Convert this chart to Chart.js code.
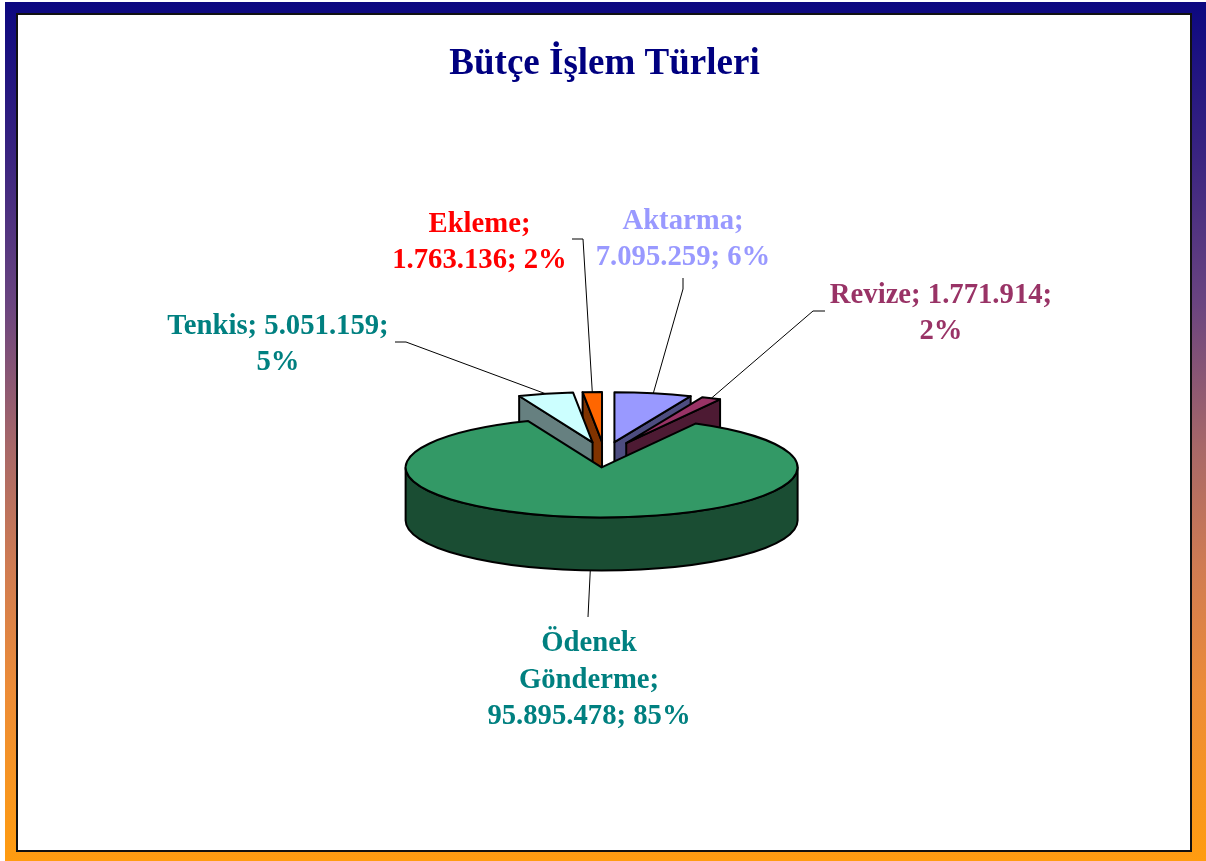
<!DOCTYPE html>
<html><head><meta charset="utf-8">
<script src="https://cdn.jsdelivr.net/npm/chart.js@4.4.1/dist/chart.umd.min.js"></script>
<style>
html,body{margin:0;padding:0;background:#fff;width:1206px;height:861px;overflow:hidden;}
#frame{position:absolute;left:5px;top:2px;width:1201px;height:859px;
  background:linear-gradient(to bottom,#0c0880 0%,#3a2480 18%,#6a4480 35%,#a86868 52%,#d07c52 66%,#ec8c38 80%,#ff9c10 100%);}
#inner{position:absolute;left:16px;top:13px;width:1176px;height:839px;box-sizing:border-box;border:2px solid #111;background:#fff;}
#c{position:absolute;left:0;top:0;}
</style></head>
<body>
<div id="frame"></div><div id="inner"></div>
<canvas id="c" width="1206" height="861"></canvas>
<script>
// ---- data ----
const categories = ['Aktarma', 'Revize', 'Ödenek Gönderme', 'Tenkis', 'Ekleme'];
const values = [7095259, 1771914, 95895478, 5051159, 1763136];
const percentLabels = [6, 2, 85, 5, 2];
const chartTitle = 'Bütçe İşlem Türleri';

// ---- styles ----
const topColors = ['#9999FF', '#993366', '#339966', '#CCFFFF', '#FF6600'];
const sideColors = ['#4D4D80', '#4D1A33', '#1A4D33', '#668080', '#803300'];
const labelColors = ['#9999FF', '#993366', '#008080', '#008080', '#FF0000'];
const labelLayout = [
  {x: 683, y: 229, wrap: 190, lh: 35.5, elbow: [[683, 278], [683, 289]]},
  {x: 941, y: 303, wrap: 240, lh: 35.5, elbow: [[825, 311], [813, 311]]},
  {x: 589, y: 651, wrap: 220, lh: 36.5, elbow: [[588, 617]]},
  {x: 278, y: 334, wrap: 240, lh: 36, elbow: [[395, 342], [406, 342]]},
  {x: 479.5, y: 232, wrap: 190, lh: 35.5, elbow: [[572, 239], [583, 239]]}
];
const K = 0.255, DEPTH = 53, EXPLODE = 50;
const LABEL_FONT = 'bold 28.7px "Liberation Serif", "Times New Roman", serif';

function fmt(v) { return String(v).replace(/\B(?=(\d{3})+(?!\d))/g, '.'); }

function geom(el) {
  const mid = (el.startAngle + el.endAngle) / 2;
  const ex = Math.cos(mid) * EXPLODE, ey = Math.sin(mid) * EXPLODE;
  const ax = el.x + ex, ay = el.y + ey * K;
  const R = el.outerRadius;
  return {mid, ex, ey, ax, ay, R,
    rim: (a, dz) => ({x: ax + Math.cos(a) * R, y: ay + Math.sin(a) * R * K + dz})};
}

function drawSlice(ctx, el, i) {
  const s = el.startAngle, e = el.endAngle;
  const g = geom(el);
  ctx.save();
  ctx.lineWidth = 2; ctx.strokeStyle = '#000'; ctx.lineJoin = 'round';
  ctx.fillStyle = sideColors[i];
  const face = (a) => {
    const p = g.rim(a, 0);
    ctx.beginPath();
    ctx.moveTo(g.ax, g.ay); ctx.lineTo(p.x, p.y);
    ctx.lineTo(p.x, p.y + DEPTH); ctx.lineTo(g.ax, g.ay + DEPTH);
    ctx.closePath(); ctx.fill(); ctx.stroke();
  };
  if (Math.cos(s) < -1e-6) face(s);
  if (Math.cos(e) > 1e-6) face(e);
  // curved outer side (front half only)
  for (let n = -1; n <= 1; n++) {
    const lo = Math.max(s, n * 2 * Math.PI), hi = Math.min(e, n * 2 * Math.PI + Math.PI);
    if (hi > lo) {
      const p1 = g.rim(lo, 0), p2 = g.rim(hi, DEPTH);
      ctx.beginPath();
      ctx.moveTo(p1.x, p1.y);
      ctx.ellipse(g.ax, g.ay, g.R, g.R * K, 0, lo, hi, false);
      ctx.lineTo(p2.x, p2.y);
      ctx.ellipse(g.ax, g.ay + DEPTH, g.R, g.R * K, 0, hi, lo, true);
      ctx.closePath(); ctx.fill(); ctx.stroke();
    }
  }
  // top face, drawn by the library's arc element in a flattened space
  ctx.save();
  ctx.translate(el.x, el.y); ctx.scale(1, K); ctx.translate(-el.x, -el.y);
  ctx.translate(g.ex, g.ey);
  el.draw(ctx);
  ctx.restore();
  // outline of the top face
  const p = g.rim(s, 0);
  ctx.beginPath();
  ctx.moveTo(g.ax, g.ay); ctx.lineTo(p.x, p.y);
  ctx.ellipse(g.ax, g.ay, g.R, g.R * K, 0, s, e, false);
  ctx.closePath(); ctx.stroke();
  ctx.restore();
}

const pie3d = {
  id: 'pie3d',
  beforeDatasetDraw(chart, args) {
    const ctx = chart.ctx, els = args.meta.data;
    const order = els.map((el, i) => i).sort((a, b) => geom(els[a]).ay - geom(els[b]).ay);
    for (const i of order) drawSlice(ctx, els[i], i);
    return false;
  },
  afterDatasetsDraw(chart) {
    const ctx = chart.ctx, els = chart.getDatasetMeta(0).data;
    ctx.save();
    els.forEach((el, i) => {
      const g = geom(el), L = labelLayout[i];
      const anchor = Math.sin(g.mid) > 0 ? g.rim(g.mid, DEPTH) : g.rim(g.mid, 0);
      ctx.beginPath();
      ctx.strokeStyle = '#000'; ctx.lineWidth = 1;
      ctx.moveTo(L.elbow[0][0], L.elbow[0][1]);
      for (let k = 1; k < L.elbow.length; k++) ctx.lineTo(L.elbow[k][0], L.elbow[k][1]);
      ctx.lineTo(anchor.x, anchor.y);
      ctx.stroke();
      // text
      ctx.font = LABEL_FONT;
      ctx.fillStyle = labelColors[i];
      ctx.textAlign = 'center'; ctx.textBaseline = 'alphabetic';
      const text = categories[i] + '; ' + fmt(values[i]) + '; ' + percentLabels[i] + '%';
      const words = text.split(' ');
      const lines = []; let cur = '';
      for (const w of words) {
        const t = cur ? cur + ' ' + w : w;
        if (cur && ctx.measureText(t).width > L.wrap) { lines.push(cur); cur = w; } else cur = t;
      }
      if (cur) lines.push(cur);
      lines.forEach((ln, j) => ctx.fillText(ln, L.x, L.y + j * L.lh));
    });
    ctx.restore();
  }
};

new Chart(document.getElementById('c'), {
  type: 'pie',
  data: {
    labels: categories,
    datasets: [{data: values, backgroundColor: topColors, borderWidth: 0, radius: 196}]
  },
  options: {
    responsive: false,
    animation: false,
    events: [],
    layout: {padding: {left: 3, right: 0, top: 0, bottom: 38}},
    plugins: {
      legend: {display: false},
      tooltip: {enabled: false},
      title: {
        display: true, text: chartTitle, color: '#000080',
        font: {family: '"Liberation Serif", "Times New Roman", serif', size: 37, weight: 'bold'},
        padding: {top: 42, bottom: 0}
      }
    }
  },
  plugins: [pie3d]
});
</script>
</body></html>
